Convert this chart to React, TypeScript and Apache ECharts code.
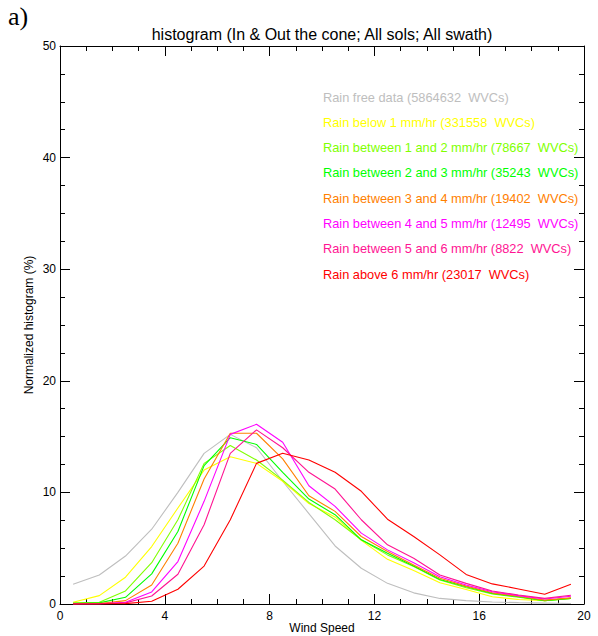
import React, { useEffect, useRef } from "react";
import * as echarts from "echarts";

const windSpeed = [0.5, 1.5, 2.5, 3.5, 4.5, 5.5, 6.5, 7.5, 8.5, 9.5, 10.5, 11.5, 12.5, 13.5, 14.5, 15.5, 16.5, 17.5, 18.5, 19.5];

const seriesNames = [
  "Rain free data (5864632  WVCs)",
  "Rain below 1 mm/hr (331558  WVCs)",
  "Rain between 1 and 2 mm/hr (78667  WVCs)",
  "Rain between 2 and 3 mm/hr (35243  WVCs)",
  "Rain between 3 and 4 mm/hr (19402  WVCs)",
  "Rain between 4 and 5 mm/hr (12495  WVCs)",
  "Rain between 5 and 6 mm/hr (8822  WVCs)",
  "Rain above 6 mm/hr (23017  WVCs)",
];

const rainFree = [1.77, 2.6, 4.3, 6.7, 10.0, 13.5, 15.2, 14.0, 11.0, 8.1, 5.2, 3.2, 1.85, 1.0, 0.5, 0.3, 0.18, 0.12, 0.08, 0.05];
const rainBelow1 = [0.15, 0.75, 2.4, 5.15, 8.6, 12.0, 13.2, 12.6, 11.0, 9.0, 7.8, 5.7, 4.0, 3.0, 1.9, 1.3, 0.65, 0.4, 0.3, 0.5];
const rain1to2 = [0.1, 0.15, 1.17, 3.7, 7.55, 12.6, 14.2, 12.9, 11.1, 9.1, 7.55, 5.75, 4.4, 3.35, 2.15, 1.45, 0.9, 0.6, 0.3, 0.5];
const rain2to3 = [0.03, 0.1, 0.6, 2.7, 6.5, 12.4, 14.9, 14.3, 11.8, 9.4, 8.0, 5.75, 4.55, 3.4, 2.2, 1.55, 0.95, 0.65, 0.3, 0.5];
const rain3to4 = [0, 0.03, 0.3, 1.7, 5.45, 11.2, 15.3, 15.3, 13.0, 9.7, 8.3, 6.05, 4.7, 3.5, 2.3, 1.6, 1.0, 0.7, 0.35, 0.55];
const rain4to5 = [0, 0.02, 0.15, 1.08, 3.8, 9.2, 15.2, 16.1, 14.5, 10.6, 8.75, 6.35, 4.85, 3.7, 2.45, 1.7, 1.1, 0.75, 0.45, 0.7];
const rain5to6 = [0, 0, 0.1, 0.72, 2.67, 7.1, 13.5, 15.6, 14.0, 11.8, 10.3, 7.55, 5.3, 4.1, 2.6, 1.85, 1.17, 0.8, 0.5, 0.78];
const rainAbove6 = [0, 0, 0.03, 0.24, 1.32, 3.4, 7.55, 12.6, 13.5, 12.9, 11.8, 10.1, 7.6, 6.05, 4.4, 2.65, 1.8, 1.35, 0.87, 1.77];

const seriesValues = [rainFree, rainBelow1, rain1to2, rain2to3, rain3to4, rain4to5, rain5to6, rainAbove6];
const seriesColors = ["#bebebe", "#ffff00", "#80ff00", "#00ff00", "#ff8000", "#ff00ff", "#ff1493", "#ff0000"];

const titleText = "histogram (In & Out the cone; All sols; All swath)";
const panelLabel = "a)";
const xName = "Wind Speed";
const yName = "Normalized histogram (%)";

const FONT = "Liberation Sans";

export default function App() {
  const ref = useRef<HTMLDivElement>(null);
  useEffect(() => {
    if (!ref.current) return;
    const chart = echarts.init(ref.current, null, { renderer: "svg" });
    const axisCommon = {
      axisLine: { show: true, onZero: false, lineStyle: { color: "#000", width: 1 } },
      axisTick: { show: true, inside: true, length: 10, lineStyle: { color: "#000", width: 1 } },
      minorTick: { show: true, splitNumber: 4, length: 5, lineStyle: { color: "#000", width: 1 } },
      splitLine: { show: false },
      minorSplitLine: { show: false },
    };
    chart.setOption({
      animation: false,
      backgroundColor: "#fff",
      textStyle: { fontFamily: FONT },
      title: {
        text: titleText,
        left: 322,
        textAlign: "center",
        top: 26,
        padding: 0,
        textStyle: { fontFamily: FONT, fontSize: 16, fontWeight: "normal", color: "#000" },
      },
      graphic: [
        {
          type: "text",
          x: 8,
          y: 3,
          style: { text: panelLabel, font: '26px "Liberation Serif"', fill: "#000" },
        },
      ],
      legend: {
        orient: "vertical",
        left: 318,
        top: 90,
        icon: "none",
        itemWidth: 0,
        itemHeight: 14,
        itemGap: 11.3,
        padding: 0,
        selectedMode: false,
        textStyle: { fontFamily: FONT, fontSize: 12.8, lineHeight: 14 },
        data: seriesNames.map((n, i) => ({ name: n, textStyle: { color: seriesColors[i] } })),
      },
      grid: { left: 60, right: 14, top: 46, bottom: 32, containLabel: false, outerBoundsMode: "none" },
      xAxis: [
        {
          type: "value",
          min: 0,
          max: 20,
          interval: 4,
          position: "bottom",
          name: xName,
          nameLocation: "middle",
          nameGap: 18,
          nameMoveOverlap: false,
          nameTextStyle: { fontFamily: FONT, fontSize: 12, color: "#000", verticalAlign: "top" },
          axisLabel: { show: true, margin: 6, color: "#000", fontFamily: FONT, fontSize: 12 },
          ...axisCommon,
        },
        {
          type: "value",
          min: 0,
          max: 20,
          interval: 4,
          position: "top",
          axisLabel: { show: false },
          ...axisCommon,
        },
      ],
      yAxis: [
        {
          type: "value",
          min: 0,
          max: 50,
          interval: 10,
          position: "left",
          name: yName,
          nameLocation: "middle",
          nameGap: 25,
          nameMoveOverlap: false,
          nameRotate: 90,
          nameTextStyle: { fontFamily: FONT, fontSize: 12, color: "#000" },
          axisLabel: { show: true, margin: 4, color: "#000", fontFamily: FONT, fontSize: 12 },
          ...axisCommon,
        },
        {
          type: "value",
          min: 0,
          max: 50,
          interval: 10,
          position: "right",
          axisLabel: { show: false },
          ...axisCommon,
        },
      ],
      series: seriesNames.map((name, i) => ({
        name,
        type: "line",
        xAxisIndex: 0,
        yAxisIndex: 0,
        showSymbol: false,
        symbol: "none",
        color: seriesColors[i],
        lineStyle: { color: seriesColors[i], width: 1.1 },
        data: windSpeed.map((x, j) => [x, seriesValues[i][j]]),
        z: 2 + i,
      })),
    });
    return () => chart.dispose();
  }, []);
  return (
    <div
      ref={ref}
      style={{ position: "absolute", left: 0, top: 0, width: 598, height: 636, background: "#fff" }}
    />
  );
}
